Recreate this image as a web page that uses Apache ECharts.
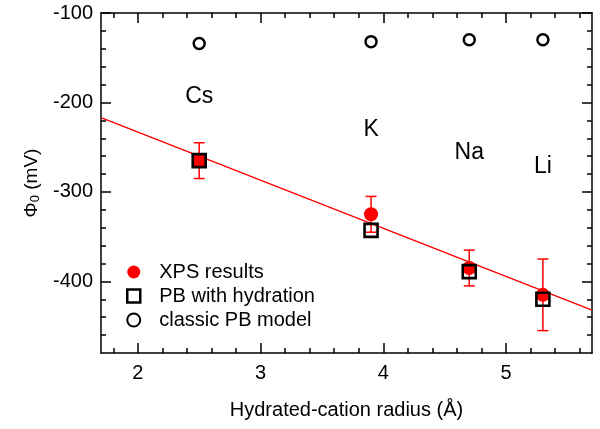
<!DOCTYPE html>
<html>
<head>
<meta charset="utf-8">
<script src="https://cdn.jsdelivr.net/npm/echarts@6/dist/echarts.min.js"></script>
<style>html,body{margin:0;padding:0;background:#fff}#c{width:600px;height:429px}</style>
</head>
<body>
<div id="c"></div>
<script>
// ---- data ----
var xMajorTicks = [2, 3, 4, 5];
var xMinorTicks = [1.8, 2.2, 2.4, 2.6, 2.8, 3.2, 3.4, 3.6, 3.8, 4.2, 4.4, 4.6, 4.8, 5.2, 5.4, 5.6];
var yMajorTicks = [-100, -200, -300, -400];
var yMinorTicks = [-120, -140, -160, -180, -220, -240, -260, -280, -320, -340, -360, -380, -420, -440, -460];
var radius = [2.5, 3.9, 4.7, 5.3];
var ions = ['Cs', 'K', 'Na', 'Li'];
var xps = [-265, -325, -385, -415];
var xpsErr = [20, 20, 20, 40];
var pbHydration = [-265, -343, -389, -420];
var pbClassic = [-134, -132, -130, -130];
var ionLabelY = [-193, -230, -256, -272];
var fitLine = [[1.7, -217], [5.7, -432]];

var FONT = 'Liberation Sans, Arial, Helvetica, sans-serif';
var chart = echarts.init(document.getElementById('c'));

function pairs(xs, ys) { return xs.map(function (x, i) { return [x, ys[i]]; }); }

function xAxisDef(pos, ticks, len, showLine, showLabel) {
  return {
    type: 'value', position: pos, min: 1.7, max: 5.7,
    axisLine: { show: showLine, lineStyle: { color: '#000', width: 1.5 } },
    axisTick: { show: true, inside: true, length: len, customValues: ticks, lineStyle: { color: '#000', width: 1.5 } },
    axisLabel: { show: showLabel, customValues: ticks, color: '#000', fontSize: 20, fontFamily: FONT, margin: 10 },
    splitLine: { show: false }
  };
}
function yAxisDef(pos, ticks, len, showLine, showLabel) {
  return {
    type: 'value', position: pos, min: -480, max: -100,
    axisLine: { show: showLine, lineStyle: { color: '#000', width: 1.5 } },
    axisTick: { show: true, inside: true, length: len, customValues: ticks, lineStyle: { color: '#000', width: 1.5 } },
    axisLabel: { show: showLabel, customValues: ticks, color: '#000', fontSize: 20, fontFamily: FONT, margin: 8 },
    splitLine: { show: false }
  };
}

var xAxes = [
  xAxisDef('bottom', xMajorTicks, 10, true, true),
  xAxisDef('bottom', xMinorTicks, 5, false, false),
  xAxisDef('top', xMajorTicks, 10, true, false),
  xAxisDef('top', xMinorTicks, 5, false, false)
];
xAxes[0].name = 'Hydrated-cation radius (Å)';
xAxes[0].nameLocation = 'middle';
xAxes[0].nameGap = 47;
xAxes[0].nameTextStyle = { color: '#000', fontSize: 20, fontFamily: FONT };

var yAxes = [
  yAxisDef('left', yMajorTicks, 10, true, true),
  yAxisDef('left', yMinorTicks, 5, false, false),
  yAxisDef('right', yMajorTicks, 10, true, false),
  yAxisDef('right', yMinorTicks, 5, false, false)
];
yAxes[0].name = '{a|Φ}{s|0}{a| (mV)}';
yAxes[0].nameLocation = 'middle';
yAxes[0].nameGap = 57;
yAxes[0].nameRotate = 90;
yAxes[0].nameTextStyle = {
  color: '#000', fontFamily: FONT,
  rich: {
    a: { fontSize: 19, fontFamily: FONT, color: '#000' },
    s: { fontSize: 13, fontFamily: FONT, color: '#000', padding: [8, 0, 0, 0] }
  }
};

var errData = radius.map(function (x, i) { return [x, xps[i] - xpsErr[i], xps[i] + xpsErr[i]]; });

var pbData = pairs(radius, pbHydration).map(function (p, i) {
  if (i === 0) return { value: p, itemStyle: { color: '#ff0000' } };
  return p;
});

chart.setOption({
  animation: false,
  backgroundColor: '#fff',
  grid: { left: 101, right: 8, top: 13, bottom: 76 },
  xAxis: xAxes,
  yAxis: yAxes,
  legend: {
    left: 121, top: 257, orient: 'vertical', itemGap: 4,
    itemWidth: 13, itemHeight: 13,
    textStyle: { color: '#000', fontSize: 20, lineHeight: 20, fontFamily: FONT, padding: [0, 0, 0, 14] },
    selectedMode: false,
    data: [
      { name: 'XPS results', icon: 'circle' },
      { name: 'PB with hydration', icon: 'rect', itemStyle: { color: 'rgba(0,0,0,0)', borderColor: '#000', borderWidth: 2.5 } },
      { name: 'classic PB model', icon: 'circle' }
    ]
  },
  series: [
    {
      name: 'fit', type: 'line', data: fitLine, symbol: 'none', z: 1,
      lineStyle: { color: '#ff0000', width: 1.4 }
    },
    {
      name: 'err', type: 'custom', z: 2, data: errData,
      renderItem: function (params, api) {
        var x = api.value(0);
        var lo = api.coord([x, api.value(1)]);
        var hi = api.coord([x, api.value(2)]);
        var w = 5.5;
        var st = { stroke: '#ff0000', lineWidth: 1.5 };
        return {
          type: 'group',
          children: [
            { type: 'line', shape: { x1: lo[0], y1: lo[1], x2: hi[0], y2: hi[1] }, style: st },
            { type: 'line', shape: { x1: lo[0] - w, y1: lo[1], x2: lo[0] + w, y2: lo[1] }, style: st },
            { type: 'line', shape: { x1: hi[0] - w, y1: hi[1], x2: hi[0] + w, y2: hi[1] }, style: st }
          ]
        };
      }
    },
    {
      name: 'XPS results', type: 'scatter', z: 3, symbol: 'circle', symbolSize: 14,
      data: pairs(radius, xps), itemStyle: { color: '#ff0000', opacity: 1 }
    },
    {
      name: 'PB with hydration', type: 'scatter', z: 4, symbol: 'rect', symbolSize: 13,
      data: pbData,
      itemStyle: { color: 'rgba(0,0,0,0)', borderColor: '#000', borderWidth: 2.6, opacity: 1 }
    },
    {
      name: 'classic PB model', type: 'scatter', z: 4, symbol: 'circle', symbolSize: 11,
      data: pairs(radius, pbClassic),
      itemStyle: { color: '#fff', borderColor: '#000', borderWidth: 2.5, opacity: 1 }
    },
    {
      name: 'ions', type: 'scatter', z: 5, symbolSize: 0, silent: true,
      itemStyle: { opacity: 1, color: '#000' },
      data: radius.map(function (x, i) { return { name: ions[i], value: [x, ionLabelY[i]] }; }),
      label: { show: true, position: 'inside', formatter: '{b}', color: '#000', opacity: 1, textBorderWidth: 0, fontSize: 23, fontFamily: FONT }
    }
  ]
});
</script>
</body>
</html>
